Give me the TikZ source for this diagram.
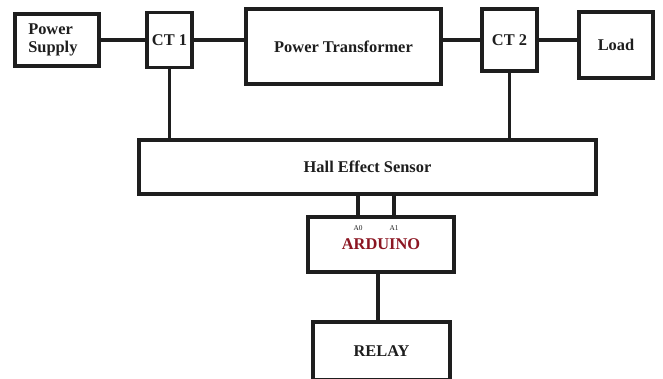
\documentclass[tikz,border=0pt]{standalone}
\usepackage{fontspec}
\setmainfont{Liberation Serif}
\usepackage{xcolor}
\definecolor{ink}{RGB}{30,30,30}
\definecolor{wine}{RGB}{140,22,34}
\usepackage{tikz}
\usetikzlibrary{positioning,calc}
\tikzset{
  blk/.style={draw=ink, line width=2.4pt, fill=white, inner sep=0pt,
              font=\fontsize{12.3}{14}\selectfont\bfseries\color{ink},
              align=center},
  wire/.style={draw=ink, line width=2.4pt},
  pin/.style={font=\fontsize{5.5}{6}\selectfont\color{ink}, inner sep=0pt},
}

\begin{document}
\begin{tikzpicture}[x=0.75pt,y=-0.75pt]
  \useasboundingbox (0,0) rectangle (663,378);
  %% top row
  \node[blk, minimum width=63pt,     minimum height=39pt]    (ps)   at (57,40)      {};
  \node[font=\fontsize{12.3}{14}\selectfont\bfseries\color{ink}, align=left,
        anchor=west, inner sep=0pt] (pslbl) at (28,40) {Power\\Supply};
  \node[blk, minimum width=33.75pt,  minimum height=41.25pt] (ct1)  at (169.5,40) {CT 1};
  \node[blk, minimum width=146.25pt, minimum height=56.25pt] (pt)   at (343.5,46.5) {Power Transformer};
  \node[blk, minimum width=41.25pt,  minimum height=46.5pt]  (ct2)  at (509.5,40)   {CT 2};
  \node[blk, minimum width=55.5pt,   minimum height=49.5pt]  (load) at (616,45)      {Load};
  %% sensor, controller, relay
  \node[blk, minimum width=342.75pt, minimum height=40.5pt]  (hall) at (367.5,167)   {Hall Effect Sensor};
  \node[blk, minimum width=109.5pt,  minimum height=41.25pt] (ard)  at (381,244.5)   {\color{wine}ARDUINO};
  \node[blk, minimum width=102.75pt, minimum height=43.5pt]  (rly)  at (381.5,351)   {RELAY};
  %% analog pins
  \coordinate (a0) at (358,217);
  \coordinate (a1) at (394,217);
  \node[pin, below=6pt of a0] (a0lbl) {A0};
  \node[pin, below=6pt of a1] (a1lbl) {A1};
  %% connectors
  \draw[wire] (ps.east) -- (ct1.west);
  \draw[wire] (ct1.east) -- (ct1.east -| pt.west);
  \draw[wire] (ct2.west -| pt.east) -- (ct2.west);
  \draw[wire] (ct2.east) -- (ct2.east -| load.west);
  \draw[wire] (ct1.south) -- (ct1.south |- hall.north);
  \draw[wire] (ct2.south) -- (ct2.south |- hall.north);
  \draw[wire] (a0 |- hall.south) -- (a0);
  \draw[wire] (a1 |- hall.south) -- (a1);
  \draw[wire] (ard.south -| 378,0) -- (rly.north -| 378,0);
\end{tikzpicture}
\end{document}
